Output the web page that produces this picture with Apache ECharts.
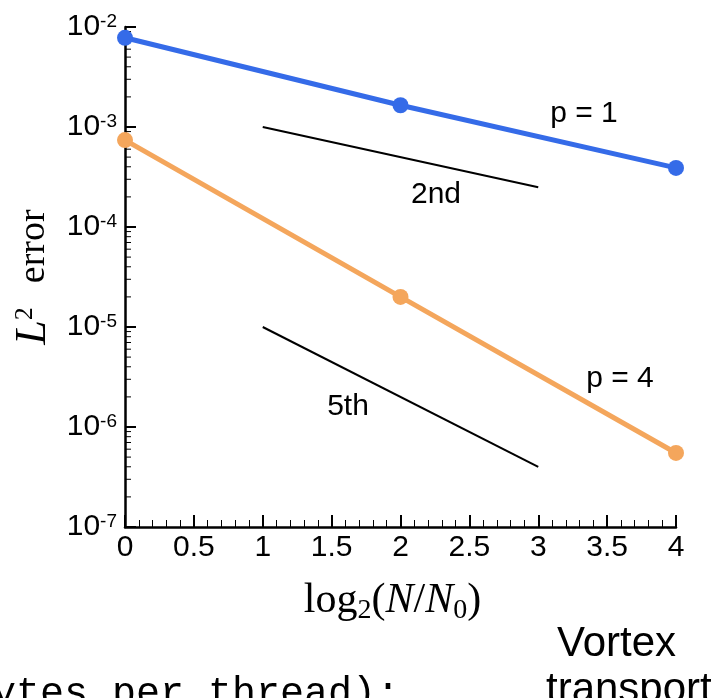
<!DOCTYPE html>
<html>
<head>
<meta charset="utf-8">
<script src="https://cdn.jsdelivr.net/npm/echarts@6/dist/echarts.min.js"></script>
<style>
  html, body { margin: 0; padding: 0; background: #fff; }
  #chart { width: 712px; height: 698px; }
</style>
</head>
<body>
<div id="chart"></div>
<script>
// refinement levels log2(N/N0)
var levels = [0, 2, 4];
// L2 error, p = 1 and p = 4
var errP1 = [7.8e-3, 1.65e-3, 3.9e-4];
var errP4 = [7.4e-4, 2.0e-5, 5.5e-7];
// reference slopes
var slopeX = [1, 3];
var slope2nd = [1e-3, 2.5e-4];
var slope5th = [1e-5, 4e-7];
// log axis decades and minor tick multipliers
var decades = [1e-7, 1e-6, 1e-5, 1e-4, 1e-3];
var minorMult = [2, 3, 4, 5, 6, 7, 8, 9];

function pairs(xs, ys) {
  var out = [];
  for (var i = 0; i < xs.length; i++) {
    out.push([xs[i], ys[i]]);
  }
  return out;
}

var minorTicks = [];
for (var d = 0; d < decades.length; d++) {
  for (var m = 0; m < minorMult.length; m++) {
    minorTicks.push([0, decades[d] * minorMult[m]]);
  }
}

var sans = 'Liberation Sans';
var serif = 'Liberation Serif';

echarts.init(document.getElementById('chart')).setOption({
  animation: false,
  backgroundColor: '#fff',
  grid: {
    left: 125,
    right: 36,
    top: 27,
    bottom: 171
  },
  xAxis: {
    type: 'value',
    min: 0,
    max: 4,
    interval: 0.5,
    name: '{t|log}{s|2}{t|(}{i|N}{t|/}{i|N}{s|0}{t|)}',
    nameLocation: 'middle',
    nameGap: 50,
    nameTextStyle: {
      padding: [0, 16, 0, 0],
      rich: {
        t: { fontFamily: serif, fontSize: 42, color: '#000', lineHeight: 48 },
        i: { fontFamily: serif, fontSize: 42, fontStyle: 'italic', color: '#000', lineHeight: 48 },
        s: { fontFamily: serif, fontSize: 28, color: '#000', verticalAlign: 'bottom', lineHeight: 30 }
      }
    },
    axisLine: { lineStyle: { color: '#000', width: 2.5 } },
    axisTick: { inside: true, length: 12, lineStyle: { color: '#000', width: 2 } },
    minorTick: { show: true, splitNumber: 5, length: 7, lineStyle: { color: '#000', width: 1 } },
    splitLine: { show: false },
    axisLabel: {
      color: '#000',
      fontFamily: sans,
      fontSize: 30,
      margin: 6,
      formatter: function (v) { return String(v); }
    }
  },
  yAxis: {
    type: 'log',
    logBase: 10,
    min: 1e-7,
    max: 1e-2,
    name: '{l|L}{s|2}{t|error}',
    nameLocation: 'middle',
    nameRotate: 90,
    nameGap: 58,
    nameTextStyle: {
      rich: {
        l: { fontFamily: serif, fontSize: 44, fontStyle: 'italic', color: '#000', lineHeight: 44 },
        t: { fontFamily: serif, fontSize: 38, color: '#000', lineHeight: 44, padding: [0, 0, 0, 24] },
        s: { fontFamily: serif, fontSize: 26, color: '#000', verticalAlign: 'top', lineHeight: 26 }
      }
    },
    axisLine: { show: true, lineStyle: { color: '#000', width: 2.5 } },
    axisTick: { inside: true, length: 11, lineStyle: { color: '#000', width: 2 } },
    splitLine: { show: false },
    axisLabel: {
      margin: 8,
      formatter: function (v) {
        var e = Math.round(Math.log(v) / Math.LN10);
        return '{b|10}{e|' + e + '}';
      },
      rich: {
        b: { fontFamily: sans, fontSize: 30, color: '#000', lineHeight: 30 },
        e: { fontFamily: sans, fontSize: 19, color: '#000', verticalAlign: 'top', lineHeight: 19, padding: [0, 0, 6, 0] }
      }
    }
  },
  series: [
    {
      type: 'custom',
      silent: true,
      clip: false,
      data: minorTicks,
      renderItem: function (params, api) {
        var p = api.coord([api.value(0), api.value(1)]);
        return {
          type: 'line',
          shape: { x1: p[0], y1: p[1], x2: p[0] + 6, y2: p[1] },
          style: { stroke: '#000', lineWidth: 1 }
        };
      }
    },
    {
      type: 'line',
      data: pairs(slopeX, slope2nd),
      showSymbol: false,
      lineStyle: { color: '#000', width: 2 },
      silent: true
    },
    {
      type: 'line',
      data: pairs(slopeX, slope5th),
      showSymbol: false,
      lineStyle: { color: '#000', width: 2 },
      silent: true
    },
    {
      type: 'line',
      data: pairs(levels, errP1),
      clip: false,
      symbol: 'circle',
      symbolSize: 16,
      lineStyle: { color: '#356be8', width: 5 },
      itemStyle: { color: '#356be8' }
    },
    {
      type: 'line',
      data: pairs(levels, errP4),
      clip: false,
      symbol: 'circle',
      symbolSize: 16,
      lineStyle: { color: '#f4a65c', width: 5 },
      itemStyle: { color: '#f4a65c' }
    }
  ],
  graphic: [
    { type: 'text', x: 584, y: 114, style: { text: 'p = 1', fontFamily: sans, fontSize: 30, fill: '#000', align: 'center', verticalAlign: 'middle' } },
    { type: 'text', x: 436, y: 195, style: { text: '2nd', fontFamily: sans, fontSize: 30, fill: '#000', align: 'center', verticalAlign: 'middle' } },
    { type: 'text', x: 620, y: 379, style: { text: 'p = 4', fontFamily: sans, fontSize: 30, fill: '#000', align: 'center', verticalAlign: 'middle' } },
    { type: 'text', x: 348, y: 407, style: { text: '5th', fontFamily: sans, fontSize: 30, fill: '#000', align: 'center', verticalAlign: 'middle' } },
    { type: 'text', x: 557, y: 644, style: { text: 'Vortex', fontFamily: sans, fontSize: 42, fill: '#000', align: 'left', verticalAlign: 'middle' } },
    { type: 'text', x: 546, y: 690, style: { text: 'transport', fontFamily: sans, fontSize: 42, fill: '#000', align: 'left', verticalAlign: 'middle' } },
    { type: 'text', x: -32, y: 694, style: { text: 'bytes per thread);', fontFamily: 'Liberation Mono', fontSize: 40, fill: '#000', align: 'left', verticalAlign: 'middle' } }
  ]
});
</script>
</body>
</html>
